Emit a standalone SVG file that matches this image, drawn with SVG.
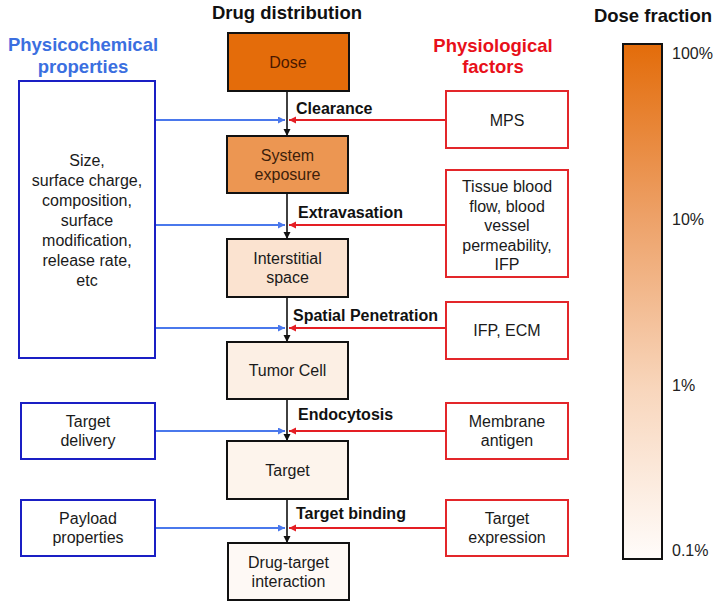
<svg xmlns="http://www.w3.org/2000/svg" width="723" height="608" viewBox="0 0 723 608">
<style>
text{font-family:"Liberation Sans",Arial,sans-serif;}
.t{font-size:16px;fill:#1a1a1a;text-anchor:middle;}
.lbl{font-size:16px;font-weight:bold;fill:#111;}
.title{font-size:18.5px;font-weight:bold;text-anchor:middle;}
.mb{stroke:#111;stroke-width:2;}
.bb{fill:#fff;stroke:#1a1fc4;stroke-width:2;}
.rb{fill:#fff;stroke:#e3262a;stroke-width:2;}
.k{stroke:#111;stroke-width:1.6;fill:none;}
.b{stroke:#4a78ec;stroke-width:2;fill:none;}
.r{stroke:#e41e24;stroke-width:2;fill:none;}
.pct{font-size:16px;fill:#222;}
</style>
<defs>
<marker id="ak" markerUnits="userSpaceOnUse" markerWidth="8" markerHeight="8" refX="7" refY="3.5" orient="auto"><path d="M0,0 L7,3.5 L0,7 z" fill="#111"/></marker>
<marker id="ab" markerUnits="userSpaceOnUse" markerWidth="8" markerHeight="8" refX="7" refY="3.5" orient="auto"><path d="M0,0 L7,3.5 L0,7 z" fill="#4a78ec"/></marker>
<marker id="ar" markerUnits="userSpaceOnUse" markerWidth="8" markerHeight="8" refX="7" refY="3.5" orient="auto"><path d="M0,0 L7,3.5 L0,7 z" fill="#e41e24"/></marker>
<linearGradient id="grad" x1="0" y1="0" x2="0" y2="1">
<stop offset="0" stop-color="#e36c0a"/>
<stop offset="0.33" stop-color="#eda066"/>
<stop offset="0.67" stop-color="#f8d6bc"/>
<stop offset="1" stop-color="#fffcfa"/>
</linearGradient>
</defs>
<g id="titles">
<text class="title" x="287" y="19" fill="#111">Drug distribution</text>
<text class="title" x="83" y="51" fill="#3b6fe0">Physicochemical</text>
<text class="title" x="83" y="73" fill="#3b6fe0">properties</text>
<text class="title" x="493" y="52" fill="#e8101a">Physiological</text>
<text class="title" x="493" y="73" fill="#e8101a">factors</text>
<text class="title" x="653" y="22" fill="#111">Dose fraction</text>
</g>
<g id="connectors">
<line class="k" x1="287" y1="91" x2="287" y2="136" marker-end="url(#ak)"/>
<line class="k" x1="287" y1="193" x2="287" y2="239" marker-end="url(#ak)"/>
<line class="k" x1="287" y1="297" x2="287" y2="342" marker-end="url(#ak)"/>
<line class="k" x1="287" y1="399" x2="287" y2="441" marker-end="url(#ak)"/>
<line class="k" x1="287" y1="499" x2="287" y2="543" marker-end="url(#ak)"/>
<line class="b" x1="155" y1="120" x2="285" y2="120" marker-end="url(#ab)"/>
<line class="b" x1="155" y1="225" x2="285" y2="225" marker-end="url(#ab)"/>
<line class="b" x1="155" y1="328" x2="285" y2="328" marker-end="url(#ab)"/>
<line class="b" x1="155" y1="431" x2="285" y2="431" marker-end="url(#ab)"/>
<line class="b" x1="155" y1="528" x2="285" y2="528" marker-end="url(#ab)"/>
<line class="r" x1="446" y1="120" x2="289" y2="120" marker-end="url(#ar)"/>
<line class="r" x1="446" y1="225" x2="289" y2="225" marker-end="url(#ar)"/>
<line class="r" x1="446" y1="328" x2="289" y2="328" marker-end="url(#ar)"/>
<line class="r" x1="446" y1="431" x2="289" y2="431" marker-end="url(#ar)"/>
<line class="r" x1="446" y1="528" x2="289" y2="528" marker-end="url(#ar)"/>
<text class="lbl" x="296" y="114">Clearance</text>
<text class="lbl" x="298" y="218">Extravasation</text>
<text class="lbl" x="293" y="321">Spatial Penetration</text>
<text class="lbl" x="298" y="420">Endocytosis</text>
<text class="lbl" x="296" y="519">Target binding</text>
</g>
<g id="dose"><rect class="mb" x="228" y="33" width="121" height="58" fill="#e46c0a"/><text class="t" x="288" y="68" style="fill:#4a1800">Dose</text></g>
<g id="system-exposure"><rect class="mb" x="227" y="136" width="121" height="57" fill="#ec9652"/><text class="t" x="287.5" y="161" style="fill:#3d1e0a">System</text><text class="t" x="287.5" y="180" style="fill:#3d1e0a">exposure</text></g>
<g id="interstitial"><rect class="mb" x="227" y="239" width="121" height="58" fill="#fbe3d0"/><text class="t" x="287.5" y="264">Interstitial</text><text class="t" x="287.5" y="283">space</text></g>
<g id="tumor-cell"><rect class="mb" x="227" y="342" width="121" height="57" fill="#fcefe4"/><text class="t" x="287.5" y="376">Tumor Cell</text></g>
<g id="target"><rect class="mb" x="227" y="441" width="121" height="58" fill="#fdf4ec"/><text class="t" x="287.5" y="476">Target</text></g>
<g id="drug-target"><rect class="mb" x="228" y="543" width="121" height="57" fill="#fef9f5"/><text class="t" x="288.5" y="568">Drug-target</text><text class="t" x="288.5" y="587">interaction</text></g>
<g id="physicochemical"><rect class="bb" x="19" y="81" width="136" height="277"/>
<text class="t" x="87" y="166">Size,</text><text class="t" x="87" y="186">surface charge,</text><text class="t" x="87" y="206">composition,</text><text class="t" x="87" y="226">surface</text><text class="t" x="87" y="246">modification,</text><text class="t" x="87" y="266">release rate,</text><text class="t" x="87" y="286">etc</text></g>
<g id="target-delivery"><rect class="bb" x="21" y="403" width="134" height="56"/><text class="t" x="88" y="427">Target</text><text class="t" x="88" y="446">delivery</text></g>
<g id="payload"><rect class="bb" x="21" y="500" width="134" height="56"/><text class="t" x="88" y="524">Payload</text><text class="t" x="88" y="543">properties</text></g>
<g id="mps"><rect class="rb" x="446" y="91" width="122" height="57"/><text class="t" x="507" y="125.5">MPS</text></g>
<g id="tissue"><rect class="rb" x="446" y="170" width="122" height="107"/><text class="t" x="507" y="192">Tissue blood</text><text class="t" x="507" y="211.5">flow, blood</text><text class="t" x="507" y="231">vessel</text><text class="t" x="507" y="250.5">permeability,</text><text class="t" x="507" y="270">IFP</text></g>
<g id="ifp-ecm"><rect class="rb" x="446" y="302" width="122" height="57"/><text class="t" x="507" y="336">IFP, ECM</text></g>
<g id="membrane"><rect class="rb" x="446" y="403" width="122" height="56"/><text class="t" x="507" y="427">Membrane</text><text class="t" x="507" y="446">antigen</text></g>
<g id="target-expression"><rect class="rb" x="446" y="500" width="122" height="56"/><text class="t" x="507" y="524">Target</text><text class="t" x="507" y="543">expression</text></g>
<g id="dose-fraction-bar"><rect x="623" y="44" width="39" height="515" fill="url(#grad)" stroke="#111" stroke-width="2"/>
<text class="pct" x="672" y="59">100%</text><text class="pct" x="672" y="225">10%</text><text class="pct" x="672" y="391">1%</text><text class="pct" x="672" y="556">0.1%</text></g>
</svg>
